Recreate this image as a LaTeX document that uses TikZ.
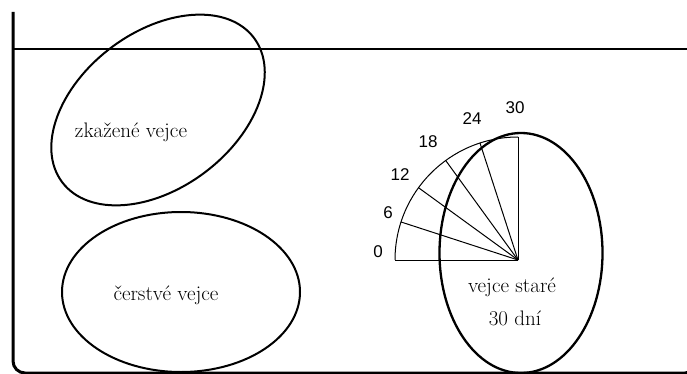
\documentclass[tikz,border=0pt]{standalone}
\usepackage{fontspec}
\newfontfamily\numfont{Liberation Sans}
\begin{document}
\begin{tikzpicture}[x=1pt,y=-1pt,
  wall/.style={line width=3pt},
  water/.style={line width=1.8pt},
  egg/.style={line width=2pt},
  fanline/.style={line width=1pt},
  lbl/.style={font=\fontsize{21}{23}\selectfont, inner sep=0pt},
  num/.style={font=\numfont\fontsize{17}{19}\selectfont, inner sep=0pt}]
\useasboundingbox[fill=white] (0,0) rectangle (687,374);
% container
\coordinate (wt) at (13,12);
\coordinate (wbl) at (13,373);
\coordinate (wbr) at (697,373);
\coordinate (wr) at (697,300);
\draw[wall, rounded corners=12pt] (wt) -- (wbl) -- (wbr) -- (wr);
% water surface
\coordinate (wl) at (13,49);
\coordinate (wre) at (690,49);
\draw[water] (wl) -- (wre);
% rotten egg
\coordinate (e1) at (158,110);
\draw[egg, rotate around={37:(e1)}] (e1) ellipse [x radius=120, y radius=78];
\node[lbl] (t1) at (131,132) {zkažené vejce};
% fresh egg
\coordinate (e2) at (181,292);
\draw[egg] (e2) ellipse [x radius=119, y radius=80];
\node[lbl] (t2) at (166,295) {čerstvé vejce};
% fan
\coordinate (F) at (518,260);
\draw[fanline] (F) ++(-180:123) arc[start angle=-180, end angle=-90, radius=123];
\foreach \a in {-180,-162,-144,-126,-108,-90} {
  \draw[fanline] (F) -- ++(\a:123);
}
\node[num] (n0) at (378,252) {0};
\node[num] (n6) at (388,213) {6};
\node[num] (n12) at (400,175) {12};
\node[num] (n18) at (428,142) {18};
\node[num] (n24) at (472,119) {24};
\node[num] (n30) at (515,108) {30};
% old egg
\coordinate (e3) at (521,253);
\draw[egg, line width=2.3pt] (e3) ellipse [x radius=81.5, y radius=120];
\node[lbl] (t3) at (512,287) {vejce staré};
\node[lbl] (t4) at (515,318) {30 dní};
\end{tikzpicture}
\end{document}
